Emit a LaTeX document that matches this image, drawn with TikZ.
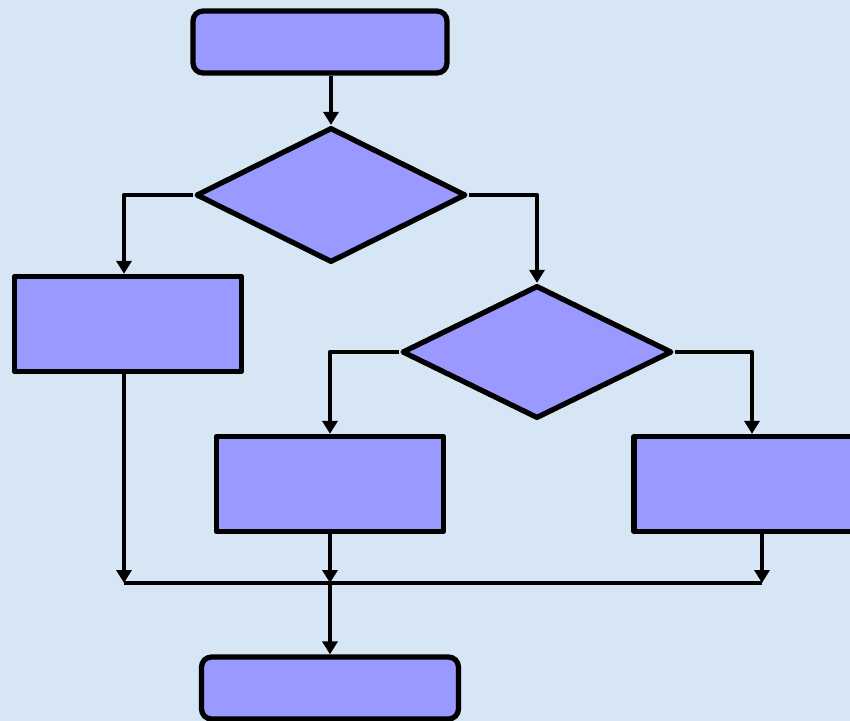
\documentclass[tikz,border=0pt]{standalone}
\usetikzlibrary{shapes.geometric,arrows.meta}
\definecolor{bgblue}{RGB}{214,230,244}
\definecolor{boxblue}{RGB}{153,153,255}

\begin{document}
\begin{tikzpicture}[x=0.02cm, y=-0.02cm, line join=round,
    box/.style={draw, line width=3pt, fill=boxblue, inner sep=0pt,
        minimum width=4.54cm, minimum height=1.9cm},
    term/.style={box, rounded corners=0.2cm, minimum height=1.24cm},
    decision/.style={draw, diamond, line width=3pt, fill=boxblue, inner sep=0pt,
        minimum width=5.4cm, minimum height=2.7cm},
    flow/.style={line width=2.6pt, -{Triangle[width=0.3cm,length=0.26cm]}}]
    \fill[bgblue] (0,0) rectangle (850,721);
    \useasboundingbox (0,0) rectangle (850,721);

    \node[term, minimum width=5.08cm] (start) at (320,42) {};
    \node[decision] (dec1) at (331,195) {};
    \node[box] (left) at (128,324) {};
    \node[decision, minimum height=2.66cm] (dec2) at (537,352) {};
    \node[box] (mid) at (330,484) {};
    \node[box, minimum width=4.72cm] (right) at (752,484) {};
    \node[term, minimum width=5.14cm] (stop) at (330,688) {};

    \coordinate (jl) at (124,583);
    \coordinate (jm) at (330,583);
    \coordinate (jr) at (762,583);

    \draw[flow] (dec1.north |- start.south) -- (dec1.north);
    \draw[flow] (dec1.west) -| (left.north -| jl);
    \draw[flow] (dec1.east) -| (dec2);
    \draw[flow] (dec2.west) -| (mid);
    \draw[flow] (dec2.east) -| (right);
    \draw[line width=2.6pt] (jl) -- (jr);
    \draw[flow] (left.south -| jl) -- (jl);
    \draw[flow] (mid) -- (jm);
    \draw[flow] (right.south -| jr) -- (jr);
    \draw[flow] (jm) -- (stop);
\end{tikzpicture}
\end{document}
